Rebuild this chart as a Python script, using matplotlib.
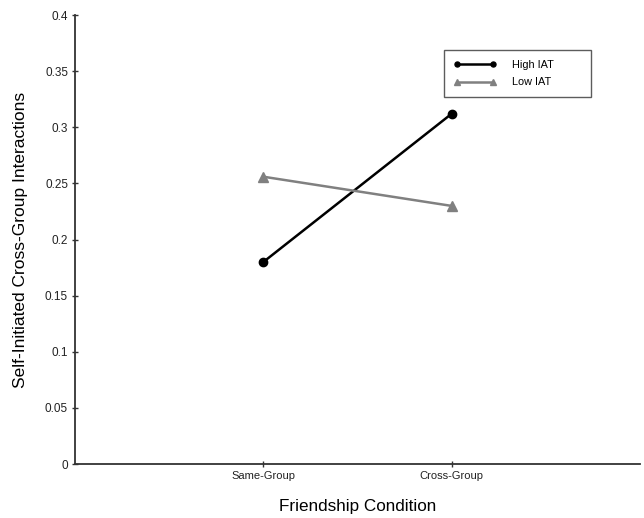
import matplotlib
matplotlib.use("Agg")
import matplotlib.pyplot as plt

plt.rcParams['font.family'] = ['Liberation Sans', 'DejaVu Sans']

conditions = ["Same-Group", "Cross-Group"]
high_iat = [0.18, 0.312]
low_iat = [0.256, 0.23]

yticks = [0, 0.05, 0.1, 0.15, 0.2, 0.25, 0.3, 0.35, 0.4]
ytick_lab = ["0", "0.05", "0.1", "0.15", "0.2", "0.25", "0.3", "0.35", "0.4"]

fig = plt.figure(figsize=(6.44, 5.18), dpi=100)
ax = fig.add_axes([0.1165, 0.104, 0.877, 0.867])

x = [1, 2]
ax.plot(x, high_iat, color="black", lw=1.8, marker="o", ms=6, label="High IAT")
ax.plot(x, low_iat, color="#808080", lw=1.8, marker="^", ms=7, label="Low IAT")

ax.set_xlim(0, 3)
ax.set_ylim(0, 0.4)
ax.set_xticks(x)
ax.set_xticklabels(conditions, fontsize=8)
ax.set_yticks(yticks)
ax.set_yticklabels(ytick_lab, fontsize=8.5)

for s in ["top", "right"]:
    ax.spines[s].set_visible(False)
for s in ["left", "bottom"]:
    ax.spines[s].set_linewidth(1.3)
    ax.spines[s].set_color("#333333")
ax.tick_params(direction="inout", length=4, width=1, colors="#333333",
               labelcolor="#222222", pad=3)

ax.set_ylabel("Self-Initiated Cross-Group Interactions", fontsize=12.5, labelpad=12)
ax.set_xlabel("Friendship Condition", fontsize=12.3, labelpad=13)

leg = ax.legend(loc="upper left", bbox_to_anchor=(0.653, 0.922, 0.26, 0.0),
                mode="expand", fontsize=7.8, numpoints=2, markerscale=0.6,
                frameon=True, fancybox=False, handlelength=3.9, handletextpad=1.5,
                borderpad=0.9, labelspacing=0.7, borderaxespad=0)
leg.get_frame().set_edgecolor("#333333")
leg.get_frame().set_linewidth(1)

plt.savefig("out.png", dpi=100)
